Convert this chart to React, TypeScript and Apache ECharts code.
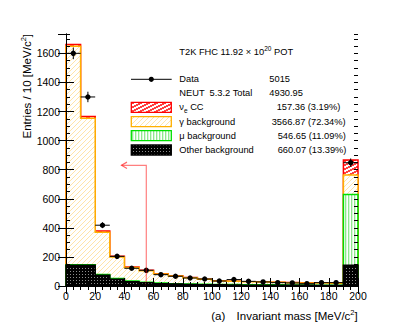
import React, { useEffect, useRef } from "react";
import * as echarts from "echarts";

const FONT = "Liberation Sans";

// ---- data ----
const binLow = [0, 10, 20, 30, 40, 50, 60, 70, 80, 90, 100, 110, 120, 130, 140, 150, 160, 170, 180, 190];
const binWidth = 10;
const dataCounts = [1600, 1300, 418, 204, 122, 108, 78, 67, 55, 48, 34, 44, 32, 28, 23, 21, 16, 23, 23, 848];
const dataErrors = [40, 36, 20, 14, 11, 10, 9, 8, 7, 7, 6, 7, 6, 5, 5, 5, 4, 5, 5, 29];
const otherBkg = [143, 143, 74, 46, 30, 22, 16, 13, 11, 9, 8, 7, 6, 6, 5, 5, 5, 4, 4, 143];
const muBkg = [3, 3, 5, 5, 5, 4, 4, 3, 3, 3, 3, 3, 3, 3, 3, 2, 2, 2, 2, 487];
const gammaBkg = [1502, 1007, 290, 149, 92, 79, 63, 52, 43, 34, 24, 22, 20, 18, 17, 16, 14, 14, 13, 133];
const nueCC = [12, 12, 10, 5, 4, 3, 2, 2, 1, 1, 1, 1, 1, 1, 1, 1, 1, 1, 1, 103];

const xMin = 0;
const xMax = 200;
const xInterval = 20;
const yMax = 1733;
const yInterval = 200;
const yMinorInterval = 50;

// cut arrow
const arrowX = 55;
const arrowY = 830;
const arrowTipX = 38;

// legend texts
const titleMain = "T2K FHC 11.92 × 10";
const titleSup = "20";
const titleEnd = " POT";
const legendRows = [
  { label: "Data", value: "5015" },
  { label: "NEUT  5.3.2 Total", value: "4930.95" },
  { label: "{a|ν}{sub|e}{a| CC}", value: "157.36 (3.19%)" },
  { label: "γ background", value: "3566.87 (72.34%)" },
  { label: "μ background", value: "546.65 (11.09%)" },
  { label: "Other background", value: "660.07 (13.39%)" },
];

const cumOther = otherBkg.map((v) => v);
const cumMu = cumOther.map((v, i) => v + muBkg[i]);
const cumGamma = cumMu.map((v, i) => v + gammaBkg[i]);
const cumTotal = cumGamma.map((v, i) => v + nueCC[i]);

function makeTile(w: number, h: number, bg: string, fn: (x: number, y: number) => string | null) {
  const c = document.createElement("canvas");
  c.width = w;
  c.height = h;
  const ctx = c.getContext("2d")!;
  ctx.fillStyle = bg;
  ctx.fillRect(0, 0, w, h);
  for (let y = 0; y < h; y++)
    for (let x = 0; x < w; x++) {
      const col = fn(x, y);
      if (col) {
        ctx.fillStyle = col;
        ctx.fillRect(x, y, 1, 1);
      }
    }
  return { image: c.toDataURL("image/png"), repeat: "repeat", imageWidth: w, imageHeight: h } as any;
}

export default function App() {
  const ref = useRef<HTMLDivElement>(null);
  useEffect(() => {
    if (!ref.current) return;
    const chart = echarts.init(ref.current, null, { renderer: "svg" });

    const redPat = makeTile(8, 8, "#ffffff", (x, y) => ((x + 2 * y) % 8 < 4 ? "#ff4040" : null));
    const orangePat = makeTile(5, 5, "#ffffff", (x, y) => ((x + y) % 5 === 0 ? "#ffe4a8" : null));
    const greenPat = makeTile(3, 3, "#ffffff", (x) => (x === 0 ? "#8fe88f" : x === 1 ? "#d8f8d8" : null));
    const blackPat = makeTile(3, 3, "#000000", (x, y) => (x === 1 && y === 1 ? "#8c8c8c" : null));

    const layerSeries = (cum: number[], pat: any, color: string, z: number) => ({
      type: "custom",
      z,
      silent: true,
      data: [[0, 0]],
      renderItem: (_p: any, api: any) => {
        const pts: number[][] = [];
        pts.push(api.coord([binLow[0], 0]));
        binLow.forEach((x, i) => {
          pts.push(api.coord([x, cum[i]]));
          pts.push(api.coord([x + binWidth, cum[i]]));
        });
        pts.push(api.coord([binLow[binLow.length - 1] + binWidth, 0]));
        return {
          type: "group",
          children: [
            { type: "polygon", shape: { points: pts }, style: { fill: pat, lineWidth: 0 } },
            { type: "polyline", shape: { points: pts }, style: { fill: "none", stroke: color, lineWidth: 1.5 } },
          ],
        };
      },
    });

    const dataSeries = {
      type: "custom",
      z: 12,
      silent: true,
      data: binLow.map((x, i) => [x + binWidth / 2, dataCounts[i], dataErrors[i]]),
      renderItem: (_p: any, api: any) => {
        const xc = api.value(0);
        const v = api.value(1);
        const e = api.value(2);
        const pl = api.coord([xc - binWidth / 2, v]);
        const pr = api.coord([xc + binWidth / 2, v]);
        const pt = api.coord([xc, v + e]);
        const pb = api.coord([xc, v - e]);
        const pc = api.coord([xc, v]);
        return {
          type: "group",
          children: [
            { type: "line", shape: { x1: pl[0], y1: pl[1], x2: pr[0], y2: pr[1] }, style: { stroke: "#000", lineWidth: 1 } },
            { type: "line", shape: { x1: pt[0], y1: pt[1], x2: pb[0], y2: pb[1] }, style: { stroke: "#000", lineWidth: 1 } },
            { type: "circle", shape: { cx: pc[0], cy: pc[1], r: 2.7 }, style: { fill: "#000" } },
          ],
        };
      },
    };

    const arrowSeries = {
      type: "custom",
      z: 14,
      silent: true,
      data: [[arrowX, arrowY, arrowTipX]],
      renderItem: (_p: any, api: any) => {
        const base = api.coord([api.value(0), 0]);
        const corner = api.coord([api.value(0), api.value(1)]);
        const tip = api.coord([api.value(2), api.value(1)]);
        return {
          type: "group",
          children: [
            {
              type: "polyline",
              shape: { points: [base, corner, tip] },
              style: { fill: "none", stroke: "#ff0000", lineWidth: 1.2, opacity: 0.5 },
            },
            {
              type: "polyline",
              shape: { points: [[tip[0] + 5.5, tip[1] - 3.2], tip, [tip[0] + 5.5, tip[1] + 3.2]] },
              style: { fill: "none", stroke: "#ff0000", lineWidth: 1.2, opacity: 0.6 },
            },
          ],
        };
      },
    };

    const tickStyle = { color: "#000", width: 1 };
    const xAxisBase = {
      type: "value",
      min: xMin,
      max: xMax,
      interval: xInterval,
      z: 20,
      splitLine: { show: false },
      axisLine: { show: true, lineStyle: tickStyle },
      axisTick: { show: true, inside: true, length: 8, lineStyle: tickStyle },
      minorTick: { show: true, splitNumber: 4, length: 4, lineStyle: tickStyle },
    };
    const yAxisBase = {
      type: "value",
      min: 0,
      max: yMax,
      interval: yInterval,
      z: 20,
      splitLine: { show: false },
      axisLine: { show: true, lineStyle: tickStyle },
      axisTick: { show: true, inside: true, length: 8, lineStyle: tickStyle },
    };
    const yMinorBase = {
      type: "value",
      min: 0,
      max: yMax,
      interval: yMinorInterval,
      z: 20,
      splitLine: { show: false },
      axisLine: { show: false },
      axisLabel: { show: false },
      axisTick: { show: true, inside: true, length: 4, lineStyle: tickStyle },
    };

    const txt = (x: number, y: number, text: string, extra: any = {}) => ({
      type: "text",
      x,
      y,
      z: 50,
      style: {
        text,
        fill: "#000",
        fontFamily: FONT,
        fontSize: 9.3,
        align: "left",
        verticalAlign: "middle",
        ...extra,
      },
    });

    const legendY = [79.3, 93.3, 107.3, 121.7, 135.7, 150];
    const valueX = [269.3, 269.3, 276.7, 271.7, 277.7, 277.7];
    const boxY = [102.3, 116.7, 130.7, 145];
    const boxPats = [redPat, orangePat, greenPat, blackPat];
    const boxCols = ["#ff0000", "#ffb000", "#00e000", "#000000"];

    const richSmall = {
      a: { fontSize: 9.3, fontFamily: FONT, lineHeight: 13 },
      sub: { fontSize: 6.5, fontFamily: FONT, lineHeight: 7, verticalAlign: "bottom" },
      sup: { fontSize: 6.5, fontFamily: FONT, lineHeight: 7, verticalAlign: "top" },
    };
    const richBig = {
      a: { fontSize: 11.5, fontFamily: FONT, lineHeight: 15 },
      sup: { fontSize: 7.5, fontFamily: FONT, lineHeight: 8, verticalAlign: "top" },
    };

    const graphics: any[] = [];
    graphics.push(
      txt(179.3, 51.7, `{a|${titleMain}}{sup|${titleSup}}{a|${titleEnd}}`, { rich: richSmall })
    );
    graphics.push({
      type: "line",
      z: 50,
      shape: { x1: 131, y1: legendY[0], x2: 171.7, y2: legendY[0] },
      style: { stroke: "#000", lineWidth: 1 },
    });
    graphics.push({
      type: "circle",
      z: 51,
      shape: { cx: 151.3, cy: legendY[0], r: 2.6 },
      style: { fill: "#000" },
    });
    legendRows.forEach((row, i) => {
      if (row.label.startsWith("{")) graphics.push(txt(179.3, legendY[i], row.label, { rich: richSmall }));
      else graphics.push(txt(179.3, legendY[i], row.label));
      graphics.push(txt(valueX[i], legendY[i], row.value));
    });
    boxY.forEach((y, i) => {
      graphics.push({
        type: "rect",
        z: 50,
        shape: { x: 131.3, y, width: 40, height: 10 },
        style: { fill: boxPats[i], stroke: boxCols[i], lineWidth: 1.3 },
      });
    });
    // axis titles
    graphics.push({
      type: "text",
      x: 357.7,
      y: 316,
      z: 50,
      style: {
        text: "{a|Invariant mass [MeV/c}{sup|2}{a|]}",
        rich: richBig,
        fill: "#000",
        fontFamily: FONT,
        fontSize: 11.5,
        align: "right",
        verticalAlign: "middle",
      },
    });
    graphics.push({
      type: "text",
      x: 218.3,
      y: 316,
      z: 50,
      style: { text: "(a)", fill: "#000", fontFamily: FONT, fontSize: 11.5, align: "center", verticalAlign: "middle" },
    });
    graphics.push({
      type: "text",
      x: 26.5,
      y: 34,
      z: 50,
      rotation: Math.PI / 2,
      style: {
        text: "{a|Entries / 10 [MeV/c}{sup|2}{a|]}",
        rich: richBig,
        fill: "#000",
        fontFamily: FONT,
        fontSize: 11.5,
        align: "right",
        verticalAlign: "middle",
      },
    });

    chart.setOption({
      animation: false,
      backgroundColor: "#ffffff",
      textStyle: { fontFamily: FONT },
      grid: { left: 66, right: 53, top: 34, bottom: 50, containLabel: false, outerBoundsMode: "none" },
      xAxis: [
        {
          ...xAxisBase,
          position: "bottom",
          axisLabel: { show: true, margin: 4, fontSize: 10.5, fontFamily: FONT, color: "#000", formatter: (v: number) => String(v) },
        },
        { ...xAxisBase, position: "top", axisLabel: { show: false } },
      ],
      yAxis: [
        {
          ...yAxisBase,
          position: "left",
          axisLabel: {
            show: true,
            margin: 6,
            fontSize: 10.5,
            fontFamily: FONT,
            color: "#000",
            showMaxLabel: false,
            formatter: (v: number) => String(v),
          },
        },
        { ...yAxisBase, position: "right", axisLabel: { show: false } },
        { ...yMinorBase, position: "left" },
        { ...yMinorBase, position: "right" },
      ],
      series: [
        layerSeries(cumTotal, redPat, "#ff0000", 2),
        layerSeries(cumGamma, orangePat, "#ffb000", 4),
        layerSeries(cumMu, greenPat, "#00e000", 6),
        layerSeries(cumOther, blackPat, "#000000", 8),
        dataSeries,
        arrowSeries,
      ],
      graphic: graphics,
    } as any);

    return () => chart.dispose();
  }, []);

  return <div ref={ref} style={{ position: "fixed", left: 0, top: 0, width: 411, height: 336 }} />;
}
